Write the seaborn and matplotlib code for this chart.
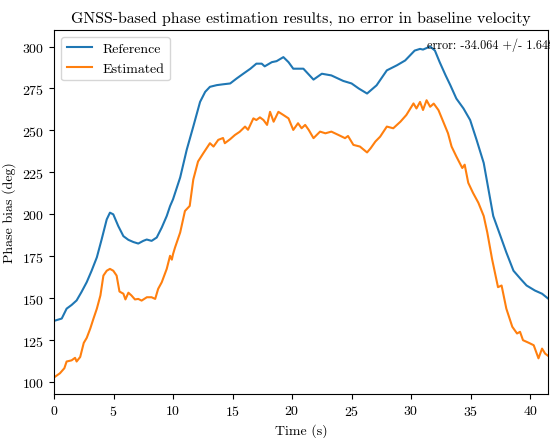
import numpy as np
import pandas as pd
import matplotlib
matplotlib.use("Agg")
import matplotlib.pyplot as plt
import seaborn as sns

plt.rcParams['font.family'] = ['serif']
plt.rcParams['font.serif'] = ['cmr10', 'DejaVu Serif']
plt.rcParams['mathtext.fontset'] = 'cm'
plt.rcParams['axes.formatter.use_mathtext'] = True

t_ref = [0.0, 0.65, 1.06, 1.48, 1.9, 2.3, 2.75, 3.16, 3.6, 4.0, 4.43, 4.7, 4.98, 5.4, 5.83,
         6.25, 6.67, 7.08, 7.5, 7.79, 8.2, 8.63, 9.05, 9.47, 9.75, 10.0, 10.6, 11.15, 11.7,
         12.27, 12.7, 13.1, 13.67, 14.2, 14.8, 15.35, 15.9, 16.5, 17.0, 17.45, 17.7, 18.3,
         18.7, 19.27, 19.7, 20.1, 20.25, 20.95, 21.8, 22.5, 23.3, 24.3, 25.0, 25.6, 26.3,
         27.1, 27.96, 28.8, 29.5, 30.3, 30.75, 31.0, 31.6, 32.0, 32.4, 32.9, 33.3, 33.8,
         34.4, 34.96, 35.5, 36.1, 36.5, 36.9, 37.5, 38.0, 38.6, 39.2, 39.7, 40.4, 41.0, 41.6]
reference = [136.5, 137.9, 143.8, 146.0, 148.7, 153.6, 159.6, 166.4, 174.4, 185.0, 197.0,
             201.0, 200.0, 193.0, 187.0, 184.8, 183.5, 182.6, 184.2, 185.0, 184.2, 186.2,
             192.1, 199.0, 204.9, 209.0, 222.0, 238.5, 252.3, 267.0, 273.0, 276.0, 277.0,
             277.5, 278.0, 281.0, 283.8, 286.8, 289.8, 289.8, 288.2, 290.7, 291.3, 293.7,
             290.7, 286.8, 286.8, 286.8, 280.3, 283.8, 282.8, 279.5, 278.0, 275.0, 272.0,
             276.9, 285.8, 288.8, 291.7, 297.6, 298.6, 298.2, 300.0, 297.6, 290.7, 282.8,
             276.9, 269.0, 263.1, 256.2, 244.4, 230.6, 214.8, 199.0, 187.2, 177.3, 166.4,
             161.5, 157.6, 154.6, 152.7, 149.3]

t_est = [0.0, 0.5, 0.87, 1.06, 1.48, 1.77, 1.9, 2.2, 2.5, 2.75, 3.05, 3.3, 3.6, 3.9, 4.15,
         4.43, 4.7, 4.98, 5.26, 5.5, 5.83, 6.0, 6.25, 6.5, 6.8, 7.08, 7.36, 7.8, 8.2, 8.5,
         8.75, 9.05, 9.47, 9.75, 9.9, 10.0, 10.17, 10.6, 11.0, 11.4, 11.7, 12.1, 12.55, 13.1,
         13.4, 13.8, 14.2, 14.35, 14.8, 15.2, 15.6, 16.05, 16.3, 16.75, 17.0, 17.3, 17.6,
         17.9, 18.15, 18.45, 18.85, 19.27, 19.7, 20.1, 20.5, 20.8, 21.1, 21.4, 21.8, 22.35,
         22.8, 23.3, 23.9, 24.45, 24.7, 25.15, 25.7, 26.3, 26.6, 27.0, 27.4, 27.96, 28.5,
         29.1, 29.6, 30.2, 30.45, 30.75, 31.0, 31.3, 31.6, 31.9, 32.3, 32.7, 33.1, 33.4,
         33.8, 34.3, 34.5, 34.8, 35.2, 35.65, 36.1, 36.4, 36.8, 37.3, 37.6, 38.0, 38.5,
         38.9, 39.15, 39.4, 39.9, 40.3, 40.7, 41.0, 41.26, 41.6]
estimated = [102.8, 105.3, 108.3, 112.3, 113.0, 114.5, 112.3, 115.0, 123.4, 126.4, 132.0,
             137.5, 143.8, 151.7, 163.5, 166.4, 167.5, 166.4, 163.5, 154.0, 152.7, 149.3,
             153.3, 151.7, 149.3, 149.6, 148.6, 150.6, 150.6, 149.6, 155.6, 159.5, 167.5,
             175.3, 173.0, 176.3, 180.3, 189.2, 202.0, 205.0, 220.7, 231.5, 236.5, 242.4,
             240.4, 244.4, 245.5, 242.4, 244.8, 247.3, 249.2, 252.3, 250.4, 257.2, 256.2,
             257.8, 256.2, 253.3, 261.1, 255.2, 261.1, 259.2, 257.2, 250.3, 254.3, 251.3,
             253.3, 250.3, 245.4, 249.3, 248.3, 249.3, 247.3, 245.4, 246.7, 241.4, 240.4,
             236.9, 239.4, 243.4, 246.3, 252.3, 251.3, 255.2, 259.2, 266.1, 263.1, 267.0,
             262.2, 268.0, 264.1, 266.0, 262.1, 255.2, 248.3, 240.4, 234.5, 227.6, 229.6,
             218.8, 212.8, 206.9, 199.0, 189.2, 173.4, 156.6, 157.6, 143.8, 133.0, 129.0,
             130.0, 125.0, 123.4, 122.0, 114.2, 120.0, 117.0, 115.2]

df = pd.concat([
    pd.DataFrame({'Time': t_ref, 'Phase': reference, 'Series': 'Reference'}),
    pd.DataFrame({'Time': t_est, 'Phase': estimated, 'Series': 'Estimated'}),
])

fig = plt.figure(figsize=(5.5, 4.39), dpi=100)
ax = fig.add_axes([54/550, 44/439, 494/550, 364/439])
sns.lineplot(data=df, x='Time', y='Phase', hue='Series', palette=['#1f77b4', '#ff7f0e'],
             linewidth=1.5, ax=ax, sort=True)
ax.set_xlim(0, 41.5)
ax.set_xlabel('Time (s)')
ax.set_ylabel('Phase bias (deg)')
ax.set_title('GNSS-based phase estimation results, no error in baseline velocity',
             fontsize=11.4)
ax.legend(loc='upper left', title=None, handlelength=1.8)
ax.text(31.3, 299, 'error: -34.064 +/- 1.648', fontsize=8.8)
fig.savefig('out.png', dpi=100)
